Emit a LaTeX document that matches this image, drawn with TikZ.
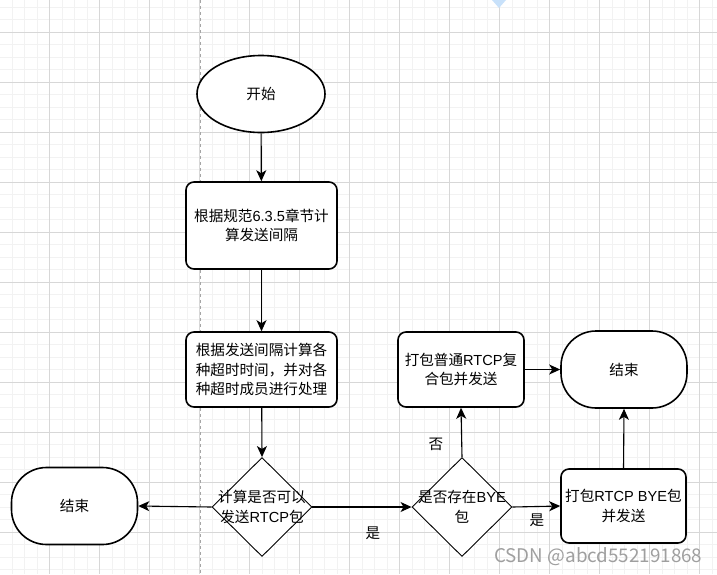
\documentclass[tikz,border=0pt]{standalone}
\usepackage{fontspec}
\newfontfamily\cjk{Noto Sans CJK SC}
\newfontfamily\latf{Liberation Sans}
\newcommand{\lt}[1]{{\latf #1}}
\usetikzlibrary{shapes.geometric,arrows.meta}
\definecolor{gridminor}{RGB}{242,242,242}
\definecolor{gridmajor}{RGB}{215,215,215}
\definecolor{lightblue}{RGB}{200,225,250}
\tikzset{
  txt/.style={font=\cjk\fontsize{14.6}{19.5}\selectfont, align=center, text=black},
  procbox/.style={txt, draw, line width=1.6pt, rounded corners=8pt, fill=white, inner sep=0pt},
  term/.style={txt, draw, line width=1.6pt, rounded corners=35pt, fill=white, minimum width=126pt, minimum height=77pt, inner sep=0pt},
  startshape/.style={txt, draw, ellipse, line width=1.6pt, fill=white, minimum width=128pt, minimum height=77pt, inner sep=0pt},
  dia/.style={draw, diamond, line width=0.9pt, fill=white, minimum width=100pt, minimum height=99pt, inner sep=0pt},
  conn/.style={line width=1.1pt, -{Stealth[length=11pt,width=10pt,inset=3pt]}},
  lbl/.style={txt, fill=none}
}
\begin{document}
\begin{tikzpicture}[x=1pt,y=-1pt]
\useasboundingbox (0,0) rectangle (717,574);
\fill[white] (0,0) rectangle (717,574);
% grid
\foreach \i in {0,...,58} {
  \draw[gridminor, line width=0.6pt] ({-0.5+12.5*\i},0) -- ({-0.5+12.5*\i},574);
}
\foreach \i in {0,...,46} {
  \draw[gridminor, line width=0.6pt] (0,{7+12.5*\i}) -- (717,{7+12.5*\i});
}
\foreach \i in {0,...,14} {
  \draw[gridmajor, line width=0.8pt] ({49+50*\i},0) -- ({49+50*\i},574);
}
\foreach \i in {0,...,11} {
  \draw[gridmajor, line width=0.8pt] (0,{32+50*\i}) -- (717,{32+50*\i});
}
\draw[gray!70, dashed, line width=0.8pt] (200,0) -- (200,574);
\fill[lightblue] (492,0) -- (506,0) -- (499,8) -- cycle;

% nodes
\node[startshape] (start) at (261,94) {开始};
\node[procbox, minimum width=151pt, minimum height=87pt] (b1) at (261.5,225.5) {根据规范\lt{6.3.5}章节计\\算发送间隔};
\node[procbox, minimum width=151pt, minimum height=75pt] (b2) at (261.5,369.5) {根据发送间隔计算各\\种超时时间，并对各\\种超时成员进行处理};
\node[dia] (d1) at (262,507) {};
\node[txt] (d1t) at (262,507) {计算是否可以\\发送\lt{RTCP}包};
\node[term] (endl) at (74.5,506) {结束};
\node[dia] (d2) at (462,507) {};
\node[txt] (d2t) at (462,507) {是否存在\lt{BYE}\\包};
\node[procbox, minimum width=126pt, minimum height=75pt] (b3) at (461,369.5) {打包普通\lt{RTCP}复\\合包并发送};
\node[term] (endr) at (624,369.5) {结束};
\node[procbox, minimum width=125pt, minimum height=74pt] (b4) at (623.5,506) {打包\lt{RTCP BYE}包\\并发送};

% connectors
\draw[conn] (start) -- (b1);
\draw[conn] (b1) -- (b2);
\draw[conn] (b2) -- (d1.north);
\draw[conn] (d1.west) -- (endl.east);
\draw[conn] (d1.east) -- (d2.west);
\draw[conn] (d2.east) -- (b4.west);
\draw[conn] (d2.north) -- (b3.south);
\draw[conn] (b3.east) -- (b3.east -| endr.west);
\draw[conn] (b4.north) -- (endr.south);

% labels
\node[lbl] (l1) at (373,533) {是};
\node[lbl] (l2) at (537,520) {是};
\node[lbl] (l3) at (436,444) {否};

% watermark
\node[font=\cjk\fontsize{18.8}{22}\selectfont, text=gray!75, anchor=west, inner sep=0pt] (wm) at (494,557) {CSDN @abcd552191868};
\end{tikzpicture}
\end{document}
